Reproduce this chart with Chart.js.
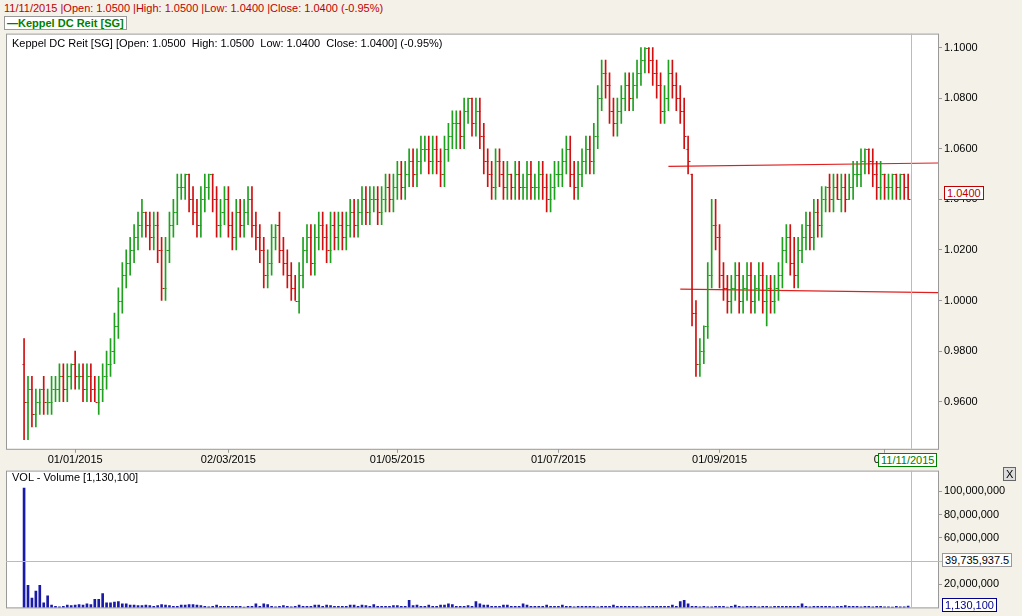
<!DOCTYPE html>
<html>
<head>
<meta charset="utf-8">
<script src="https://cdn.jsdelivr.net/npm/chart.js@4"></script>
<style>
  body { margin: 0; background: #f4f2e8; font-family: "Liberation Sans", Arial, sans-serif; width: 1022px; height: 616px; overflow: hidden; position: relative; }
  #hdr { position: absolute; left: 4px; top: 2px; font-size: 11px; color: #c00000; }
  #leg { position: absolute; left: 4px; top: 16px; font-size: 11px; color: #008000; border: 1px solid #999; padding: 0 2px; background: #fff; font-weight: bold; }
  #pw { position: absolute; left: 6px; top: 25px; width: 1016px; height: 443px; }
  #vw { position: absolute; left: 6px; top: 462px; width: 1016px; height: 154px; }
  .t { position: absolute; font-size: 11px; color: #000; pointer-events: none; }
  .box { position: absolute; font-size: 11px; background: #fff; padding: 0 2px; }
</style>
</head>
<body>
<div id="pw"><canvas id="price"></canvas></div>
<div id="vw"><canvas id="vol"></canvas></div>
<div id="hdr">11/11/2015 |Open: 1.0500 |High: 1.0500 |Low: 1.0400 |Close: 1.0400 (-0.95%)</div>
<div id="leg">—Keppel DC Reit [SG]</div>
<div class="t" style="left:12px;top:37px">Keppel DC Reit [SG] [Open: 1.0500&nbsp; High: 1.0500&nbsp; Low: 1.0400&nbsp; Close: 1.0400] (-0.95%)</div>
<div class="t" style="left:12px;top:471px">VOL - Volume [1,130,100]</div>
<div class="box" style="left:944px;top:186px;color:#c00000;border:1px solid #c00000">1.0400</div>
<div class="box" style="left:878px;top:453px;color:#008000;border:1px solid #008000">11/11/2015</div>
<div class="box" style="left:942px;top:553px;color:#000;border:1px solid #999">39,735,937.5</div>
<div class="box" style="left:942px;top:598px;color:#00008b;border:1px solid #00008b">1,130,100</div>
<div class="box" style="left:1003px;top:467px;border:1px solid #666;background:#ddd">X</div>
<script>
// prices in thousandths
const opens = [975,960,965,955,960,965,960,960,965,965,
970,965,970,975,970,970,965,970,965,960,
965,970,975,980,990,1000,1010,1015,1020,1025,
1030,1035,1030,1025,1030,1020,1005,1020,1030,1035,
1045,1045,1050,1040,1035,1030,1040,1045,1050,1040,
1030,1035,1040,1030,1025,1035,1030,1035,1040,1030,
1025,1020,1010,1015,1025,1030,1020,1015,1010,1005,
1000,1010,1020,1025,1015,1025,1030,1025,1020,1030,
1025,1030,1025,1030,1035,1030,1035,1040,1035,1040,
1040,1035,1040,1045,1040,1045,1050,1045,1050,1055,
1050,1055,1060,1060,1055,1060,1055,1050,1060,1065,
1070,1070,1065,1075,1080,1070,1075,1065,1055,1050,
1045,1055,1050,1045,1050,1045,1050,1045,1045,1050,
1045,1045,1050,1045,1040,1045,1050,1050,1055,1060,
1050,1045,1050,1055,1060,1055,1065,1080,1090,1085,
1075,1070,1075,1080,1085,1080,1085,1090,1095,1100,
1095,1090,1085,1075,1080,1090,1085,1080,1075,1060,
1050,995,975,980,990,1010,1030,1025,1010,1005,
1000,1005,1010,1000,1005,1010,1000,1005,1010,1000,
1005,1000,1005,1010,1020,1025,1015,1010,1020,1025,
1030,1025,1035,1030,1040,1045,1040,1045,1040,1045,
1040,1045,1050,1050,1055,1060,1055,1050,1045,1050,
1045,1045,1050,1045,1050,1045];
const highs = [985,970,970,965,965,970,965,970,970,975,
975,975,975,980,975,975,975,975,970,970,
975,980,985,995,1005,1015,1020,1025,1030,1035,
1040,1035,1035,1035,1035,1025,1025,1035,1040,1050,
1050,1050,1050,1045,1040,1045,1050,1050,1050,1045,
1040,1045,1045,1035,1040,1040,1040,1045,1045,1035,
1030,1025,1020,1030,1030,1035,1025,1020,1015,1010,
1015,1025,1030,1030,1030,1035,1035,1030,1035,1035,
1035,1035,1035,1040,1040,1040,1045,1045,1045,1045,
1045,1045,1050,1050,1050,1055,1055,1055,1060,1060,
1060,1065,1065,1065,1065,1065,1060,1065,1070,1075,
1075,1075,1080,1080,1080,1080,1080,1070,1060,1055,
1060,1060,1055,1055,1050,1055,1055,1050,1055,1055,
1050,1055,1055,1050,1050,1055,1055,1060,1065,1065,
1055,1055,1060,1065,1065,1070,1085,1095,1095,1090,
1080,1080,1085,1090,1090,1090,1095,1100,1100,1100,
1100,1095,1090,1085,1095,1095,1090,1085,1080,1065,
1050,1000,985,990,1015,1040,1040,1030,1015,1010,
1010,1015,1015,1010,1015,1015,1010,1015,1015,1010,
1010,1010,1015,1025,1030,1030,1025,1025,1030,1035,
1035,1040,1040,1045,1045,1050,1050,1050,1050,1050,
1050,1055,1055,1060,1060,1060,1060,1055,1055,1050,
1050,1050,1050,1050,1050,1050];
const lows = [945,945,950,950,955,955,955,955,960,960,
960,960,965,965,965,960,960,960,960,955,
960,965,970,975,985,995,1005,1010,1015,1020,
1025,1025,1020,1020,1015,1000,1000,1015,1025,1030,
1040,1040,1035,1030,1025,1025,1035,1040,1035,1025,
1025,1030,1025,1020,1020,1025,1025,1030,1025,1020,
1015,1005,1005,1010,1020,1015,1010,1005,1000,1000,
995,1005,1015,1010,1010,1020,1020,1015,1015,1020,
1020,1020,1020,1025,1025,1025,1030,1030,1030,1035,
1030,1030,1035,1035,1035,1040,1040,1040,1045,1045,
1045,1050,1055,1050,1050,1050,1045,1045,1055,1060,
1060,1060,1060,1070,1065,1065,1060,1050,1045,1040,
1040,1045,1040,1040,1040,1040,1040,1040,1040,1040,
1040,1040,1040,1035,1035,1040,1045,1045,1050,1045,
1040,1040,1045,1050,1050,1050,1060,1075,1080,1070,
1065,1065,1070,1075,1075,1075,1080,1085,1090,1090,
1085,1080,1070,1070,1075,1080,1075,1070,1060,1050,
990,970,970,975,985,1005,1020,1005,1000,995,
995,1000,995,995,1000,995,995,1000,995,990,
995,995,1000,1005,1015,1010,1005,1005,1015,1020,
1020,1020,1025,1025,1035,1035,1035,1040,1035,1035,
1040,1040,1045,1045,1050,1050,1045,1040,1040,1040,
1040,1040,1040,1040,1040,1040];
const closes = [960,965,955,960,965,960,960,965,965,970,
965,970,975,970,970,965,970,965,960,965,
970,975,980,990,1000,1010,1015,1020,1025,1030,
1035,1030,1025,1030,1020,1005,1020,1030,1035,1045,
1045,1050,1040,1035,1030,1040,1045,1050,1040,1030,
1035,1040,1030,1025,1035,1030,1035,1040,1030,1025,
1020,1010,1015,1025,1030,1020,1015,1010,1005,1000,
1010,1020,1025,1015,1025,1030,1025,1020,1030,1025,
1030,1025,1030,1035,1030,1035,1040,1035,1040,1040,
1035,1040,1045,1040,1045,1050,1045,1050,1055,1050,
1055,1060,1060,1055,1060,1055,1050,1060,1065,1070,
1070,1065,1075,1080,1070,1075,1065,1055,1050,1045,
1055,1050,1045,1050,1045,1050,1045,1045,1050,1045,
1045,1050,1045,1040,1045,1050,1050,1055,1060,1050,
1045,1050,1055,1060,1055,1065,1080,1090,1085,1075,
1070,1075,1080,1085,1080,1085,1090,1095,1100,1095,
1090,1085,1075,1080,1090,1085,1080,1075,1065,1055,
995,975,980,990,1010,1030,1025,1010,1005,1000,
1005,1010,1000,1005,1010,1000,1005,1010,1000,1005,
1000,1005,1010,1020,1025,1015,1010,1020,1025,1030,
1025,1035,1030,1040,1045,1040,1045,1040,1045,1040,
1045,1050,1050,1055,1060,1055,1050,1045,1050,1045,
1045,1050,1045,1050,1045,1040];
// volume in millions
const volumes = [103,19,8,14,19,4,10,2,1,0.5,
1,2,1.5,2,2.5,2,3,2.5,7,7,
12,4,4,4.5,5,3,3,2,2,1.5,
1.5,2,1.5,1,1.5,2.5,2,1.5,1,1,
2,2,2.5,2.5,2,1.5,1,0.5,1,2,
1,1,1,1,1,1,0.3,1,1,3,
1,3,2.5,1,0.5,1,1.5,1,0.5,1,
2,1,1,1,2,2,1,2,1.5,1,
1,1,1,2,2,1,2,1.5,1,2.5,
1,1,1,1,1.5,1.5,1,1,6,1.5,
2,1,1,2,1,1,2,2,3,2.5,
1,1,1,1.5,1,5,3,2,2,1,
1,1,2,2,1,1,1,3,2,1,
1,1,1,2,1,1,1,2,1,1,
0.5,1,1,1,1,1,0.5,1,1,1,
2,1,1,1,1,1,1,0.5,1,1,
1,1,1,1,1,2,1,5,6,3,
1,1,0.5,1,0.5,0.5,1,1,1,0.3,
1,2,1,0.5,1,1,1,0.5,1,1,
0.5,1,1,1,1,1,1,1,3,1,
0.5,1,1,1,1,1,0.5,1,1,1.5,
1,1,1,0.5,1,1,0.5,1,1,0.5,
0.5,0.3,1,0.5,0.5,1.13];
const holidays = ["2014-12-25","2015-01-01","2015-02-19","2015-02-20","2015-04-03","2015-05-01",
  "2015-06-01","2015-07-17","2015-08-07","2015-08-10","2015-09-11","2015-09-24","2015-11-10"];
const tickDates = ["2015-01-01","2015-03-02","2015-05-01","2015-07-01","2015-09-01","2015-11-02"];
const tickLabels = ["01/01/2015","02/03/2015","01/05/2015","01/07/2015","01/09/2015","02/1"];
const trendHigh = [[164, 1.0530], [240, 1.0545]];
const trendLow = [[167, 1.0045], [240, 1.0030]];

// trading days
const dates = [];
for (let d = new Date(Date.UTC(2014, 11, 12)); dates.length < closes.length; d.setUTCDate(d.getUTCDate() + 1)) {
  const s = d.toISOString().slice(0, 10);
  if (d.getUTCDay() % 6 !== 0 && !holidays.includes(s)) dates.push(s);
}
const tickIdx = tickDates.map(t => dates.findIndex(d => d >= t));

const GREEN = "#1fa01f", RED = "#d01010";
const colorOf = i => closes[i] < opens[i] ? RED : GREEN;
const k = v => v / 1000;
const XMIN = -4.6, XMAX = 232.6;

const ohlcTicks = {
  id: "ohlcTicks",
  afterDatasetsDraw(chart) {
    const { ctx, scales: { x, y } } = chart;
    ctx.save();
    ctx.lineWidth = 1;
    closes.forEach((c, i) => {
      const px = Math.round(x.getPixelForValue(i)) + 0.5;
      ctx.strokeStyle = colorOf(i);
      ctx.beginPath();
      const yo = Math.round(y.getPixelForValue(k(opens[i]))) + 0.5;
      const yc = Math.round(y.getPixelForValue(k(c))) + 0.5;
      ctx.moveTo(px - 2, yo); ctx.lineTo(px, yo);
      ctx.moveTo(px, yc); ctx.lineTo(px + 2, yc);
      ctx.stroke();
    });
    const cx = Math.round(x.getPixelForValue(closes.length - 1)) + 3.5;
    ctx.strokeStyle = "#bbb";
    ctx.beginPath(); ctx.moveTo(cx, chart.chartArea.top); ctx.lineTo(cx, chart.chartArea.bottom); ctx.stroke();
    ctx.restore();
  }
};
const frame = {
  id: "frame",
  beforeDraw(chart) {
    const { ctx, chartArea: a } = chart;
    ctx.save();
    ctx.fillStyle = "#fff";
    ctx.fillRect(a.left, a.top, a.right - a.left, a.bottom - a.top);
    ctx.strokeStyle = "#999";
    ctx.strokeRect(a.left + 0.5, a.top + 0.5, a.right - a.left, a.bottom - a.top);
    ctx.restore();
  }
};
const fixW = { afterFit(s) { s.width = 84; } };
const font = { family: "Liberation Sans, Arial", size: 11 };
const tickGrid = { drawOnChartArea: false, tickLength: 4, color: "#999", offset: false };

new Chart(document.getElementById("price"), {
  data: {
    datasets: [
      { type: "bar", data: closes.map((c, i) => ({ x: i, y: [k(lows[i]), k(highs[i])] })),
        backgroundColor: closes.map((c, i) => colorOf(i)), barThickness: 1, grouped: false },
      { type: "line", data: trendHigh.map(p => ({ x: p[0], y: p[1] })), borderColor: "#e02020", borderWidth: 1.2, pointRadius: 0 },
      { type: "line", data: trendLow.map(p => ({ x: p[0], y: p[1] })), borderColor: "#e02020", borderWidth: 1.2, pointRadius: 0 }
    ]
  },
  options: {
    animation: false, responsive: true, maintainAspectRatio: false,
    layout: { padding: 0 },
    plugins: { legend: { display: false }, tooltip: { enabled: false } },
    scales: {
      x: { type: "linear", min: XMIN, max: XMAX, offset: false, grid: tickGrid, border: { display: false },
        afterBuildTicks(s) { s.ticks = tickIdx.map(v => ({ value: v })); },
        ticks: { font, color: "#000", maxRotation: 0, autoSkip: false, padding: 1,
          callback: v => tickLabels[tickIdx.indexOf(v)] } },
      y: { position: "right", min: 0.9414, max: 1.1055, grid: tickGrid, border: { display: false },
        ...fixW,
        afterBuildTicks(s) { s.ticks = [0.96, 0.98, 1.0, 1.02, 1.04, 1.06, 1.08, 1.1].map(v => ({ value: v })); },
        ticks: { font, color: "#000", padding: 2, callback: v => v.toFixed(4) } }
    }
  },
  plugins: [frame, ohlcTicks]
});

const cursor = {
  id: "cursor",
  afterDatasetsDraw(chart) {
    const { ctx, scales: { x, y }, chartArea: a } = chart;
    ctx.save();
    ctx.strokeStyle = "#bbb"; ctx.lineWidth = 1;
    const cx = Math.round(x.getPixelForValue(volumes.length - 1)) + 3.5;
    const cy = Math.round(y.getPixelForValue(39.7359375)) + 0.5;
    ctx.beginPath();
    ctx.moveTo(cx, a.top); ctx.lineTo(cx, a.bottom);
    ctx.moveTo(a.left, cy); ctx.lineTo(a.right + 6, cy);
    ctx.stroke();
    ctx.restore();
  }
};
new Chart(document.getElementById("vol"), {
  type: "bar",
  data: { datasets: [{ data: volumes.map((v, i) => ({ x: i, y: v })), backgroundColor: "#1a1aa8", barThickness: 2 }] },
  options: {
    animation: false, responsive: true, maintainAspectRatio: false,
    layout: { padding: { top: 4, bottom: 4 } },
    plugins: { legend: { display: false }, tooltip: { enabled: false } },
    scales: {
      x: { type: "linear", min: XMIN, max: XMAX, offset: false, display: false },
      y: { position: "right", min: 0, max: 118, grid: tickGrid, border: { display: false },
        ...fixW,
        afterBuildTicks(s) { s.ticks = [20, 40, 60, 80, 100].map(v => ({ value: v })); },
        ticks: { font, color: "#000", padding: 2, callback: v => v === 40 ? "" : (v * 1e6).toLocaleString("en-US") } }
    }
  },
  plugins: [frame, cursor]
});
</script>
</body>
</html>
